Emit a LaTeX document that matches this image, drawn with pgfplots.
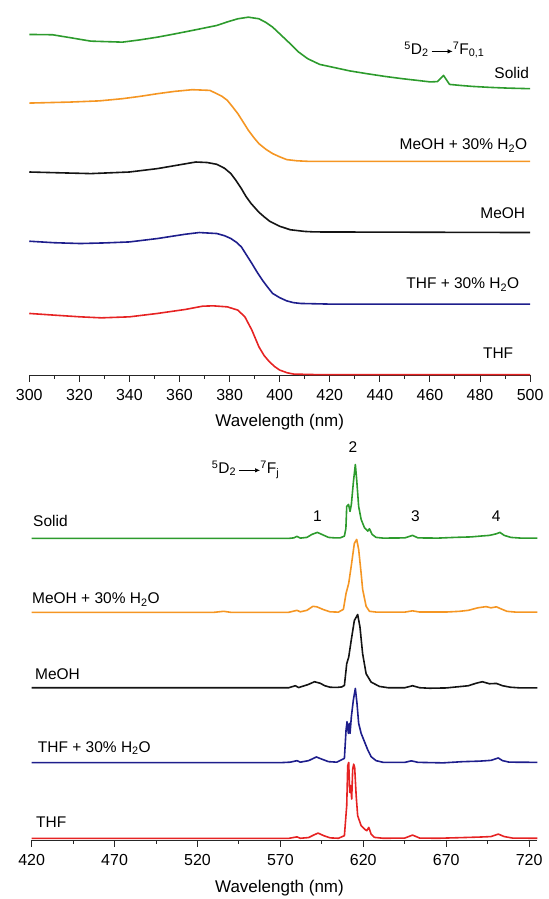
\documentclass[border=0pt]{standalone}
\usepackage{fontspec}
\setmainfont{Liberation Sans}
\usepackage{pgfplots}
\pgfplotsset{compat=1.18}
\usetikzlibrary{arrows.meta}

\definecolor{cgreen}{RGB}{45,155,45}
\definecolor{corange}{RGB}{245,150,35}
\definecolor{cblack}{RGB}{20,20,20}
\definecolor{cblue}{RGB}{30,30,140}
\definecolor{cred}{RGB}{230,35,35}

\newsavebox\arr
\sbox\arr{\tikz[baseline=-0.55ex]\draw[line width=0.7pt,-{Latex[length=5pt,width=4.5pt]}](0,0)--(21pt,0);}

\tikzset{lab/.style={font=\fontsize{15.5}{15.5}\selectfont, inner sep=0pt}}

\pgfplotsset{
  spec/.style={
    scale only axis, clip=false,
    axis x line*=bottom, axis y line=none,
    x axis line style={-, line width=1.1pt, black!85},
    tick align=outside,
    major tick length=6.7pt, minor tick length=3.5pt,
    every tick/.style={line width=1pt, black!85},
    minor x tick num=1,
    ytick=\empty, ymin=0,
    /pgf/number format/assume math mode=true,
    /pgf/number format/1000 sep={},
    xticklabel style={font=\fontsize{16}{16}\selectfont, anchor=base, yshift=-19pt},
    xlabel style={font=\fontsize{17}{17}\selectfont, anchor=base},
    every axis plot/.append style={line width=1.6pt, line join=round},
  },
}

\begin{document}
\begin{tikzpicture}[x=1pt,y=1pt]
\path (0,0) rectangle (549,899);

% ---------- absorption (top) ----------
\begin{axis}[spec,
  at={(29.3pt,523.5pt)}, anchor=south west,
  width=501.4pt, height=375.5pt,
  xmin=300, xmax=500, ymax=375.5,
  xtick={300,320,...,500},
  xlabel={Wavelength (nm)},
  xlabel style={at={(axis description cs:0.5,-0.137)}},
]
\addplot[cgreen] coordinates {(300,341) (309.3,340.7) (317,337.5) (324.6,334.3) (337.2,333.3) (344,335.5) (351.2,338.3) (358,341.5) (365.1,345) (374.9,350) (379,353.5) (383.3,356.7) (387.5,358.3) (391.7,356.7) (394.5,353) (397.2,348.3) (400.5,340.5) (404.2,331.7) (407.5,323.5) (411.2,316.7) (416,311) (421,308.3) (428,304.5) (434.9,301.7) (442,299) (449,296.7) (455,295) (460.1,293.5) (463,293.8) (464.3,297) (465.4,300) (466.5,296) (467.8,291) (472,290) (476.9,289) (484,288) (490.9,287.3) (500,286.7)};
\addplot[corange] coordinates {(300,272.3) (316.2,273.3) (328,274.5) (337.2,276.7) (344.2,279) (351.2,281.7) (358,284) (365.1,285.7) (372.1,285) (374.9,281.7) (377,279) (379.1,275) (381.2,268.5) (383.3,261.7) (385.5,253) (387.5,245) (389.6,238) (391.7,231.7) (394.5,226) (397.2,221.7) (400,218.5) (402.8,215.7) (407,214.5) (411.2,214) (500,214)};
\addplot[cblack] coordinates {(300,203.3) (312,202.5) (324.6,201.7) (340,203.3) (351.2,206.7) (360,210.5) (366.5,213.3) (371,212.8) (374.9,211) (378,207) (380.5,201.7) (382.5,195) (384.7,186.7) (386.5,179) (388.5,172) (391.7,163) (394,158) (396,154) (400,149) (404.2,145.5) (410,143.8) (414,143.3) (500,142.7)};
\addplot[cblue] coordinates {(300,134) (310,132.5) (320.4,131.7) (330,132.3) (340,133.3) (351.2,136.7) (362.3,141) (367.9,142.7) (374.9,141.7) (378,139.5) (380.5,136.7) (382.7,133) (384.7,128.3) (386.8,120) (388.9,111.7) (391,103) (393.1,95) (395.2,88) (397.2,81.7) (400,77.5) (402.8,74.3) (405.5,72.5) (408.4,71.7) (421,71) (500,71)};
\addplot[cred] coordinates {(300,61.7) (310,60) (320.4,58.3) (328.8,57.3) (340,58.3) (351.2,61.7) (362.3,65.7) (369.3,69) (373.5,69.3) (379.1,68.3) (383.3,65) (386.1,58.3) (388.9,45) (391.7,28.3) (393.8,19.5) (395.9,13.3) (398,8.5) (400,5) (403,2.3) (405.6,1) (414,0.5) (500,0.5)};

\node[lab] at (axis cs:465.8,325.5) {\textsuperscript{5}D\textsubscript{2}\,\usebox\arr\textsuperscript{7}F\textsubscript{0,1}};
\node[lab,anchor=east] at (axis cs:499.6,302.5) {Solid};
\node[lab,anchor=east] at (axis cs:498.9,229.8) {MeOH + 30\% H\textsubscript{2}O};
\node[lab,anchor=east] at (axis cs:498.1,162.2) {MeOH};
\node[lab,anchor=east] at (axis cs:495.7,90.5) {THF + 30\% H\textsubscript{2}O};
\node[lab,anchor=east] at (axis cs:493.3,22.2) {THF};
\end{axis}

% ---------- emission (bottom) ----------
\begin{axis}[spec,
  at={(31.7pt,58pt)}, anchor=south west,
  width=506.3pt, height=401pt,
  xmin=420, xmax=725, ymax=401,
  xtick={420,470,...,720},
  xlabel={Wavelength (nm)},
  xlabel style={at={(axis description cs:0.49,-0.13)}},
]
\addplot[cgreen] coordinates {(420,302) (575,302) (578,302.5) (580,304) (582,302.3) (586,303) (589,306) (592.3,308) (595,306) (599,303) (603,302.5) (606,302.5) (608.6,304.3) (609.5,312) (610,334) (611.1,336) (612,329) (612.8,336) (614,358) (615.2,376) (616,361) (617.2,334) (618.7,321) (620.7,312.7) (622.7,309.3) (623.7,311.7) (625.3,306) (627.7,303) (632,302.3) (645,302.5) (649.7,305) (653,302.5) (665,302.3) (675,303) (685,303.5) (692,304.5) (696,305) (700,306.5) (702.4,308) (705,305) (709,303) (715,302.3) (725,302.3)};
\addplot[corange] coordinates {(420,228) (530,228) (535.8,229) (540,228) (575,228) (580,230) (582,228.5) (586,230) (589.6,234) (592,233.5) (596,230.7) (600,228.5) (605,228.2) (608,231) (609.6,247) (611.2,257) (612.7,274) (614.6,297) (616,301) (617.2,291) (618.7,267) (619.6,251) (621.7,234) (623.7,229) (628,228.2) (645,228.2) (649.7,229.5) (654,228.3) (670,228.3) (678,229) (683.4,230) (689,232.5) (694,233.7) (697,232.5) (700.3,233.5) (703,231.5) (706.6,229) (712,228.2) (725,228.2)};
\addplot[cblack] coordinates {(420,152.5) (575,152.5) (579,154.5) (581,152.7) (586.4,155.5) (590.6,158.5) (594,157) (596.8,154.5) (600,153) (604,152.8) (607,153.3) (608.6,154.8) (610,176.5) (611.2,183.2) (612.7,199.8) (614.6,219.8) (616.6,225.8) (618,213.2) (619.6,186.5) (621.7,166.5) (624.7,158.2) (629.7,153.8) (635,152.5) (645,152.5) (649.7,154.5) (654,152.5) (660,152) (670,152.3) (683.4,154.5) (688,157) (691.8,158.5) (696,156.5) (700.3,156.8) (704,154.5) (708.7,153) (715,152.3) (725,152.3)};
\addplot[cblue] coordinates {(420,77.5) (570,77.5) (576,78) (580,79.5) (582,78) (587,79.5) (591.7,83.2) (595,81) (599,78.5) (604,78) (608.6,81.8) (609.6,110.2) (610.2,118.5) (611,106.8) (611.6,116.8) (612,106.8) (612.8,123.5) (614,140.2) (615.2,151.8) (616.2,136.8) (617.2,116.8) (618.7,106.8) (620.7,98.5) (622.7,90.2) (624.7,83.5) (627.7,79.5) (632,77.8) (645,77.8) (649,79.3) (653,77.8) (668,77.3) (680,78.5) (690,79) (697,79.8) (701.4,82.2) (704,79.5) (708,78) (725,77.8)};
\addplot[cred] coordinates {(420,1.7) (575,1.7) (580,3.2) (582,1.8) (587,2.5) (590,5) (592.7,7) (596,4.5) (600,2.2) (605,1.8) (608.6,4.4) (610,34.4) (610.6,74.4) (611.2,77.7) (611.8,47.7) (612.4,54.4) (613,41) (613.6,71) (614.2,76) (614.8,72.7) (615.7,44.4) (616.6,24.4) (618.7,14.4) (620.7,11) (622.1,9.4) (623.3,12.7) (624.7,6) (626.7,2.7) (632,1.8) (645,2) (649.7,5) (654,2) (665,1.8) (680,2.5) (690,3) (697,3.5) (701.4,6) (705,3.5) (710,2) (725,1.8)};

\node[lab] at (axis cs:613.8,393.3) {2};
\node[lab] at (axis cs:592.4,324.3) {1};
\node[lab] at (axis cs:651.4,324.3) {3};
\node[lab] at (axis cs:700.1,324.3) {4};
\node[lab] at (axis cs:549,371) {\textsuperscript{5}D\textsubscript{2}\,\usebox\arr\textsuperscript{7}F\textsubscript{j}};
\node[lab,anchor=west] at (axis cs:420.8,319.3) {Solid};
\node[lab,anchor=west] at (axis cs:420.2,241) {MeOH + 30\% H\textsubscript{2}O};
\node[lab,anchor=west] at (axis cs:422,166) {MeOH};
\node[lab,anchor=west] at (axis cs:423.7,92) {THF + 30\% H\textsubscript{2}O};
\node[lab,anchor=west] at (axis cs:422.6,18.3) {THF};
\end{axis}
\end{tikzpicture}
\end{document}
